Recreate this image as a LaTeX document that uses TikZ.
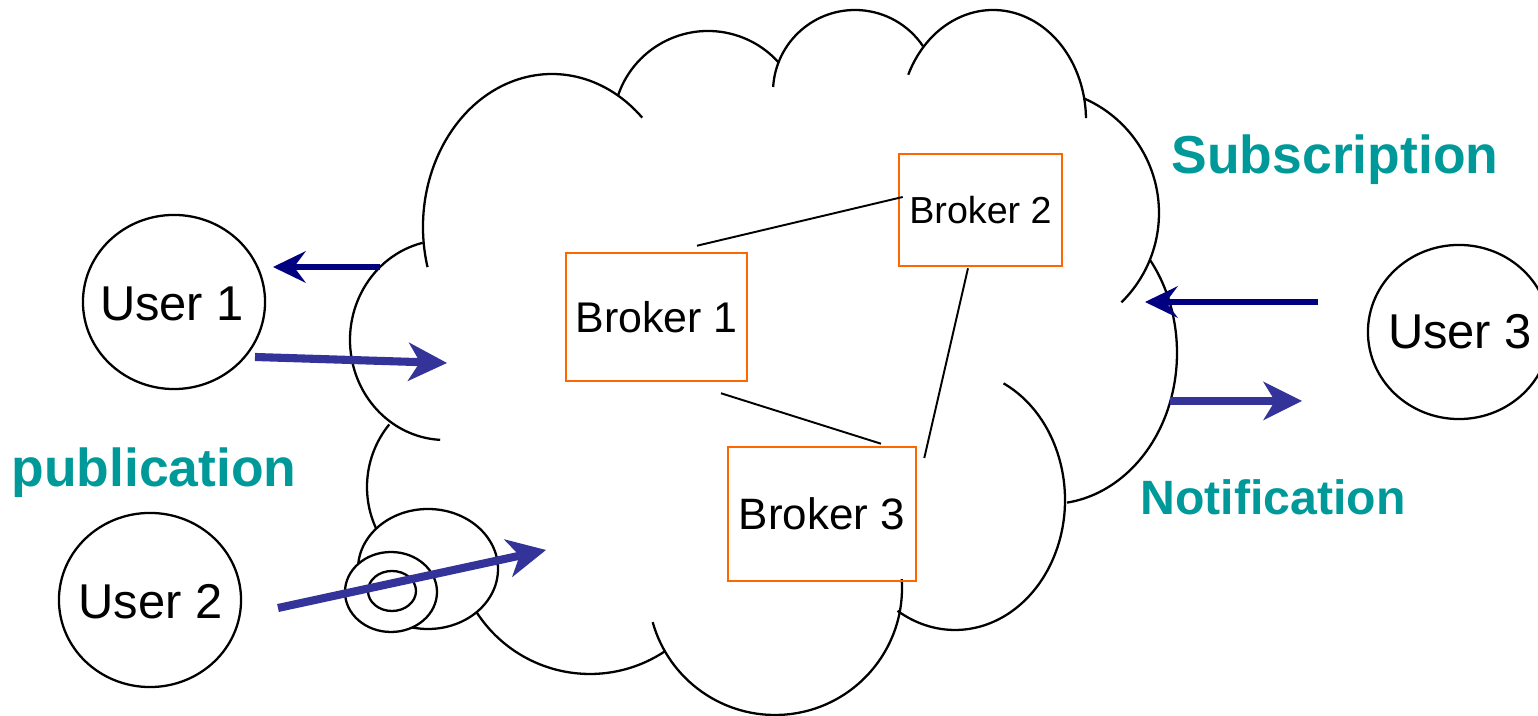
\documentclass[tikz,border=0pt]{standalone}
\usepackage{fontspec}
\setmainfont{Liberation Sans}
\usetikzlibrary{arrows.meta,shapes.geometric}
\definecolor{navyc}{HTML}{000080}
\definecolor{bluec}{HTML}{333399}
\definecolor{tealc}{HTML}{009999}
\definecolor{orangec}{HTML}{FF6600}
\newcommand\cloudlobe[6]{\draw[cloudline] (#1,#2) ++(#5:#3 and #4) arc[start angle=#5, end angle=#6, x radius=#3, y radius=#4];}
\tikzset{
  cloudline/.style={line width=0.65pt, black},
  userell/.style={ellipse, draw, line width=0.65pt, fill=white, inner sep=0pt, minimum width=1.82cm, minimum height=1.74cm},
  usertext/.style={font=\fontsize{13.9}{16}\selectfont, inner sep=0pt},
  brokerbox/.style={rectangle, draw=orangec, line width=0.7pt, inner sep=0pt},
  link/.style={line width=0.55pt, black},
  navyarrow/.style={draw=navyc, line width=1.9pt, -{Stealth[length=0.33cm, width=0.32cm, inset=0.12cm, line width=0pt]}},
  bluearrow/.style={draw=bluec, line width=2.3pt, -{Stealth[length=0.39cm, width=0.39cm, inset=0.12cm, line width=0pt]}},
  flowlabel/.style={text=tealc, font=\bfseries\fontsize{15.2}{18}\selectfont, anchor=base, inner sep=0pt},
  smallell/.style={line width=0.65pt, fill=white}
}
\begin{document}
\begin{tikzpicture}[x=0.01cm, y=-0.01cm]
\useasboundingbox (0,0) rectangle (1538,716);
% cloud lobes
\cloudlobe{552}{227}{129}{153}{164.8}{314.4}
\cloudlobe{708}{126}{95}{95}{199}{318.4}
\cloudlobe{855}{92}{82}{82}{183.5}{326}
\cloudlobe{993}{120}{93}{110}{204.3}{359}
\cloudlobe{1034}{213}{125}{125}{-66.7}{45.6}
\cloudlobe{1050}{353}{127}{151}{-38}{82.3}
\cloudlobe{955}{500}{110}{130}{-63.8}{121.5}
\cloudlobe{775}{588}{127}{127}{-4}{164.4}
\cloudlobe{590}{539}{135}{135}{155}{56.2}
\cloudlobe{466}{487}{99}{99}{219.2}{150}
\cloudlobe{445}{340}{95}{100}{256.4}{92.9}
% small puffs
\draw[smallell] (428,569) ellipse[x radius=70, y radius=60];
\draw[smallell] (391,592) ellipse[x radius=46, y radius=40];
\draw[smallell] (392,591) ellipse[x radius=24, y radius=20];
% users
\node[userell] (u1) at (174,302) {};
\node[usertext] (u1t) at (172,303.5) {User 1};
\node[userell] (u2) at (150,600) {};
\node[usertext] (u2t) at (150.5,602) {User 2};
\node[userell] (u3) at (1459,332) {};
\node[usertext] (u3t) at (1460,332) {User 3};
% brokers
\node[brokerbox, minimum width=1.81cm, minimum height=1.28cm, font=\fontsize{12.2}{14}\selectfont] (b1) at (656.5,317) {Broker 1};
\node[brokerbox, minimum width=1.63cm, minimum height=1.12cm, font=\fontsize{10.7}{13}\selectfont] (b2) at (980.5,210) {Broker 2};
\node[brokerbox, minimum width=1.88cm, minimum height=1.34cm, font=\fontsize{12.5}{15}\selectfont] (b3) at (822,514) {Broker 3};
% links
\draw[link] ([shift={(40.5,-6)}]b1.north) -- ([shift={(5,-13)}]b2.west);
\draw[link] ([shift={(64.5,11)}]b1.south) -- ([shift={(59,-2)}]b3.north);
\draw[link] ([shift={(-12.5,1)}]b2.south) -- ([shift={(7,-56)}]b3.east);
% arrows
\coordinate (s1) at (380,267); \coordinate (t1) at (273,267);
\coordinate (s2) at (255,357); \coordinate (t2) at (447,363);
\coordinate (s3) at (278,608); \coordinate (t3) at (546,550);
\coordinate (s4) at (1318,302); \coordinate (t4) at (1145,302);
\coordinate (s5) at (1170,401); \coordinate (t5) at (1302,401);
\draw[navyarrow] (s1) -- (t1);
\draw[bluearrow] (s2) -- (t2);
\draw[bluearrow] (s3) -- (t3);
\draw[navyarrow] (s4) -- (t4);
\draw[bluearrow] (s5) -- (t5);
% labels
\node[flowlabel] (pub) at (154,487) {publication};
\node[flowlabel] (sub) at (1335,174) {Subscription};
\node[flowlabel, font=\bfseries\fontsize{13.7}{16}\selectfont] (noti) at (1273,515) {Notification};
\end{tikzpicture}
\end{document}
